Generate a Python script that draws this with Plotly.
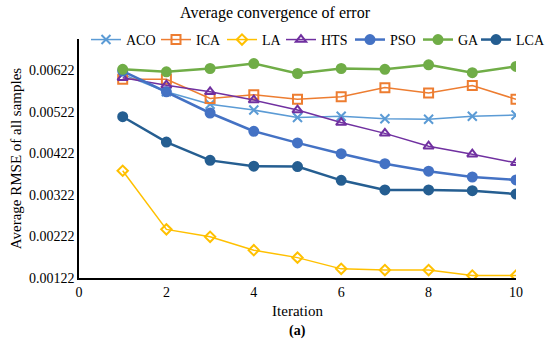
import plotly.graph_objects as go

iterations = [1, 2, 3, 4, 5, 6, 7, 8, 9, 10]
aco = [0.00612, 0.00570, 0.00540, 0.00526, 0.00508, 0.00511, 0.00505, 0.00504, 0.00511, 0.00514]
ica = [0.00600, 0.00600, 0.00554, 0.00563, 0.00552, 0.00558, 0.00580, 0.00567, 0.00585, 0.00552]
la = [0.00380, 0.00239, 0.00221, 0.00189, 0.00171, 0.00144, 0.00141, 0.00141, 0.00128, 0.00128]
hts = [0.00604, 0.00586, 0.00570, 0.00550, 0.00526, 0.00496, 0.00470, 0.00439, 0.00420, 0.00399]
pso = [0.00620, 0.00570, 0.00519, 0.00475, 0.00447, 0.00421, 0.00397, 0.00379, 0.00365, 0.00358]
ga = [0.00624, 0.00618, 0.00626, 0.00638, 0.00614, 0.00626, 0.00624, 0.00635, 0.00616, 0.00631]
lca = [0.00510, 0.00449, 0.00405, 0.00391, 0.00390, 0.00357, 0.00334, 0.00334, 0.00332, 0.00324]
y_ticks = [0.00122, 0.00222, 0.00322, 0.00422, 0.00522, 0.00622]
x_ticks = [0, 2, 4, 6, 8, 10]

series = [
    ("ACO", aco, "#5B9BD5", "x-thin-open", 1.5, 9),
    ("ICA", ica, "#ED7D31", "square-open", 1.5, 9),
    ("LA", la, "#FFC000", "diamond-open", 1.5, 8),
    ("HTS", hts, "#7030A0", "triangle-up-open", 1.5, 9),
    ("PSO", pso, "#4472C4", "circle", 2.5, 9),
    ("GA", ga, "#70AD47", "circle", 2.5, 9),
    ("LCA", lca, "#255E91", "circle", 2.5, 9),
]
legend_x = [0.0160, 0.1762, 0.3272, 0.4622, 0.6201, 0.7757, 0.9085]

W, H = 550, 346
font_family = "Times New Roman, Liberation Serif, DejaVu Serif, serif"
fig = go.Figure()
legend_layouts = {}
for i, (name, vals, color, sym, lw, ms) in enumerate(series):
    lname = "legend" if i == 0 else f"legend{i + 1}"
    fig.add_trace(go.Scatter(
        x=iterations, y=vals, name=name, mode="lines+markers",
        line=dict(color=color, width=lw),
        marker=dict(symbol=sym, size=ms, color=color,
                    line=dict(color=color, width=2)),
        legend=lname,
    ))
    legend_layouts[lname] = dict(
        orientation="h", x=legend_x[i], xanchor="left",
        y=0.996, yanchor="middle",
        bgcolor="rgba(255,255,255,0)", font=dict(size=14, family=font_family),
        itemwidth=30,
    )

fig.update_layout(
    width=W, height=H,
    paper_bgcolor="white", plot_bgcolor="white",
    margin=dict(l=79, r=34, t=39, b=68, autoexpand=False),
    font=dict(family=font_family, size=14, color="black"),
    title=dict(text="Average convergence of error", x=0.5, xanchor="center",
               y=0.964, yanchor="middle", font=dict(size=16, family=font_family)),
    showlegend=True,
    **legend_layouts,
)
fig.update_xaxes(range=[0, 10], tickvals=x_ticks, showgrid=False, zeroline=False,
                 showline=True, linecolor="black", linewidth=1.5, automargin=False,
                 ticks="", tickfont=dict(size=14, family=font_family),
                 title=dict(text="Iteration", font=dict(size=15, family=font_family), standoff=7))
fig.update_yaxes(range=[0.00122, 0.00697], tickvals=y_ticks, tickformat=".5f",
                 showgrid=False, zeroline=False, showline=True, linecolor="black",
                 linewidth=1.5, ticks="", tickfont=dict(size=14, family=font_family),
                 automargin=False,
                 title=dict(text="Average RMSE of all samples", font=dict(size=15, family=font_family), standoff=4))
fig.add_annotation(text="<b>(a)</b>", x=0.5, xref="paper", y=-53 / 239, yref="paper",
                   yanchor="middle", showarrow=False, font=dict(size=14, family=font_family))
fig.write_html("out.html", config={"displayModeBar": False},
               post_script="document.body.style.margin='0';")
